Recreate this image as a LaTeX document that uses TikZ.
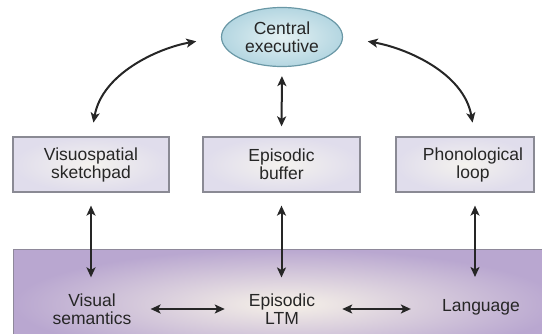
\documentclass[tikz,border=0pt]{standalone}
\usepackage{fontspec}
\setmainfont{Liberation Sans}
\usetikzlibrary{arrows.meta,shapes.geometric}
\definecolor{inkgray}{HTML}{262626}
\definecolor{boxedge}{HTML}{8A8A94}
\definecolor{boxin}{HTML}{F4F2EE}
\definecolor{boxout}{HTML}{E0DDEC}
\definecolor{ceedge}{HTML}{6A98A6}
\definecolor{cein}{HTML}{E4F1F3}
\definecolor{ceout}{HTML}{B4D6E1}
\definecolor{ltmin}{HTML}{F6F1E8}
\definecolor{ltmout}{HTML}{B9A7D0}
\definecolor{ltmedge}{HTML}{8E889A}

\begin{document}
\begin{tikzpicture}[x=1pt,y=1pt,
	font=\fontsize{17.5}{18}\selectfont, text=inkgray,
	>={Stealth[length=10pt,width=9pt,inset=2.5pt]},
	link/.style={<->,line width=2pt,draw=inkgray},
	store/.style={rectangle,draw=boxedge,line width=1.2pt,inner color=boxin,outer color=boxout,minimum height=55pt,align=center},
	exec/.style={ellipse,draw=ceedge,line width=1.2pt,inner color=cein,outer color=ceout,minimum width=121pt,minimum height=59pt,inner sep=0pt,align=center},
	ltmband/.style={rectangle,draw=ltmedge,line width=1pt,inner color=ltmin,outer color=ltmout,minimum width=547pt,minimum height=110pt},
	ltmtext/.style={align=center,inner sep=0pt}]
	\useasboundingbox (0,0) rectangle (542,333);

	\node[ltmband] (ltm) at (286.5,29) {};

	\node[exec] (central) at (282,296) {Central\\executive};

	\node[store,minimum width=156pt] (vsp) at (91,168.5) {Visuospatial\\sketchpad};
	\node[store,minimum width=157pt] (eb) at (281.5,168.5) {Episodic\\buffer};
	\node[store,minimum width=138pt,label={[align=center,xshift=8pt]center:{Phonological\\loop}}] (pl) at (465,168.5) {};

	\node[ltmtext] (vsem) at (92,24) {Visual\\semantics};
	\node[ltmtext] (eltm) at (282,24) {Episodic\\LTM};
	\node[ltmtext] (lang) at (481,26) {Language};

	% slave systems <-> central executive
	\draw[link,shorten <=14pt,shorten >=25pt] (vsp.north) to[out=80,in=190] (central.west);
	\draw[link,shorten <=25pt,shorten >=14pt] (central.east) to[out=-10,in=100] ([xshift=10pt]pl.north);
	\draw[link,shorten <=9pt,shorten >=10pt] (central.south) -- (eb.north);

	% slave systems <-> long-term memory
	\draw[link,shorten <=13pt,shorten >=16pt] (vsp.south) -- (vsp.south |- vsem.north);
	\draw[link,shorten <=13pt,shorten >=16pt] (eb.south) -- (eb.south |- eltm.north);
	\draw[link,shorten <=13pt,shorten >=22pt] ([xshift=10pt]pl.south) -- ([xshift=10pt]pl.south |- lang.north);

	\draw[link,shorten <=19pt,shorten >=24pt] (vsem.east) -- (vsem.east -| eltm.west);
	\draw[link,shorten <=27pt,shorten >=31pt] (eltm.east) -- (eltm.east -| lang.west);
\end{tikzpicture}
\end{document}
